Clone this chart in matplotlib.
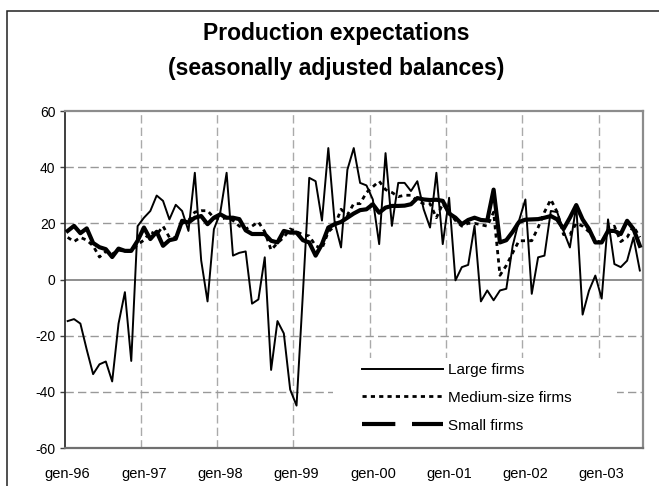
import numpy as np
import matplotlib
matplotlib.use("Agg")
import matplotlib.pyplot as plt
from matplotlib.patches import Rectangle
from matplotlib.lines import Line2D

plt.rcParams['font.family'] = ['Liberation Sans', 'DejaVu Sans']
plt.rcParams['axes.unicode_minus'] = False

# monthly data, gen-96 .. lug-03
large = [-14.8, -14.1, -15.7, -25, -33.7, -30.2, -29.2, -36.3, -15.7, -4.5,
         -29, 19, 22, 24.4, 29.9, 28, 21.4, 26.6, 24.4, 17.3,
         38, 6.8, -7.8, 17.9, 23.8, 38, 8.5, 9.5, 10, -8.6,
         -7.1, 7.9, -32.2, -14.8, -19.2, -39.2, -44.9, -5, 36.2, 35,
         21, 46.8, 20.3, 11.4, 39.1, 46.8, 34.4, 33.5, 28.5, 12.6,
         45, 19.1, 34.4, 34.4, 31.5, 35, 25, 18.5, 38, 12.6,
         29.1, -0.3, 4.4, 5.2, 19.1, -7.8, -3.9, -7.4, -3.9, -3.3,
         12, 21, 28.5, -5.1, 7.9, 8.5, 24.4, 24, 17.3, 11.4,
         26.4, -12.5, -4, 1.4, -6.8, 21.4, 5.5, 4.4, 6.7, 15, 3.2]
medium = [15, 13.5, 15, 14, 12, 8, 10, 9, 10.5, 10,
          10, 12.5, 14, 17, 16, 19, 15, 15, 20, 21,
          24, 24.5, 24.5, 22, 21.5, 22, 21, 19, 18, 19,
          20.5, 17, 10.5, 13, 15, 18, 17, 16, 15.5, 12,
          11, 17, 19, 25, 23, 27, 27, 31, 33, 35,
          32, 31, 29.5, 30, 30, 28, 27, 27, 22, 27,
          24, 21, 19, 20, 20, 19.5, 19, 24, 1.5, 5,
          9.5, 13.8, 13.8, 13.8, 18.5, 24, 28.5, 24, 16, 16,
          20, 19, 17, 14, 13, 17, 19, 13.5, 15, 19, 15]
small = [17.3, 19.1, 16.5, 18.2, 13, 11.5, 10.8, 8, 11, 10.2,
         10.2, 13.8, 18.5, 14.4, 17, 12, 14, 14.5, 20.9, 20.3,
         22, 22.6, 19.7, 22, 23.2, 22, 22, 21.5, 17.5, 16.2,
         16.2, 16.2, 13.8, 13.2, 17.3, 16.7, 16.7, 14, 13.2, 8.5,
         12.6, 18.5, 19.7, 20.5, 22, 23.5, 24.7, 25, 26.8, 23.8,
         25.6, 26.2, 26.2, 26.3, 26.8, 29, 28.5, 28.3, 28.4, 28,
         23.5, 22, 19.7, 21.2, 22, 21.2, 21, 32, 13.2, 14,
         17, 20.5, 21.3, 21.4, 21.5, 22, 22.6, 21.4, 18, 22,
         26.5, 21.4, 18, 13.2, 13.2, 17.3, 17.3, 16.2, 20.9, 18, 12]
year_labels = ['gen-96', 'gen-97', 'gen-98', 'gen-99', 'gen-00', 'gen-01', 'gen-02', 'gen-03']
series_labels = ['Large firms', 'Medium-size firms', 'Small firms']

x = np.arange(len(large))

fig = plt.figure(figsize=(6.59, 4.86), dpi=100)
ax = fig.add_axes([64.5 / 659, 38 / 486, 578.5 / 659, 337 / 486])

# grid
for k in range(1, len(year_labels)):
    ax.axvline(12 * k - 0.5, color='#aaaaaa', lw=1, dashes=(6, 3), zorder=1)
for v in (-40, -20, 20, 40):
    ax.axhline(v, color='#999999', lw=1, dashes=(6, 3), zorder=1)
ax.axhline(0, color='#707070', lw=1.1, zorder=1)

# white area behind legend
ax.add_patch(Rectangle((0.464, 0), 0.491, 0.267, transform=ax.transAxes,
                       facecolor='white', edgecolor='none', zorder=1.5))

dotted = (0, (1.5, 1.5))
ax.plot(x, large, color='black', lw=1.4, zorder=3)
ax.plot(x, medium, color='black', lw=2.0, linestyle=dotted, zorder=4)
# dash pattern restarts on every short segment, so it reads as nearly solid
ax.plot(x, small, color='black', lw=3.0, zorder=5)

handles = [Line2D([], [], color='black', lw=1.4),
           Line2D([], [], color='black', lw=2.0, linestyle=dotted),
           Line2D([], [], color='black', lw=3.0, linestyle=(0, (8, 4)))]
ax.legend(handles, series_labels, loc='upper left', bbox_to_anchor=(0.514, 0.252),
          frameon=False, borderpad=0, borderaxespad=0, handlelength=5.3,
          handletextpad=0.35, labelspacing=0.9, fontsize=11)

ax.set_xlim(-0.5, len(large) - 0.5)
ax.set_ylim(-60, 60)
ax.set_yticks(range(-60, 61, 20))
ax.set_xticks(range(0, 12 * len(year_labels), 12))
ax.set_xticklabels(year_labels)
ax.tick_params(axis='x', length=0, pad=14, labelsize=10.5)
ax.tick_params(axis='y', length=3.5, width=1, pad=3, labelsize=10, color='#404040')

ax.spines['left'].set_color('#303030')
ax.spines['left'].set_linewidth(1.3)
ax.spines['bottom'].set_color('#707070')
ax.spines['bottom'].set_linewidth(1.6)
for s in ('top', 'right'):
    ax.spines[s].set_color('#8c8c8c')
    ax.spines[s].set_linewidth(1.6)

fig.text(0.5106, 1 - 40 / 486, 'Production expectations', ha='center',
         va='baseline', fontsize=16.5, fontweight='bold')
fig.text(0.5106, 1 - 75 / 486, '(seasonally adjusted balances)', ha='center',
         va='baseline', fontsize=16.5, fontweight='bold')

# outer chart border
fig.patches.append(Rectangle((7 / 659, -0.1), 1.2, 1.1 - 11 / 486,
                             transform=fig.transFigure, fill=False,
                             edgecolor='#202020', lw=1.1))

fig.savefig('out.png', dpi=100)
